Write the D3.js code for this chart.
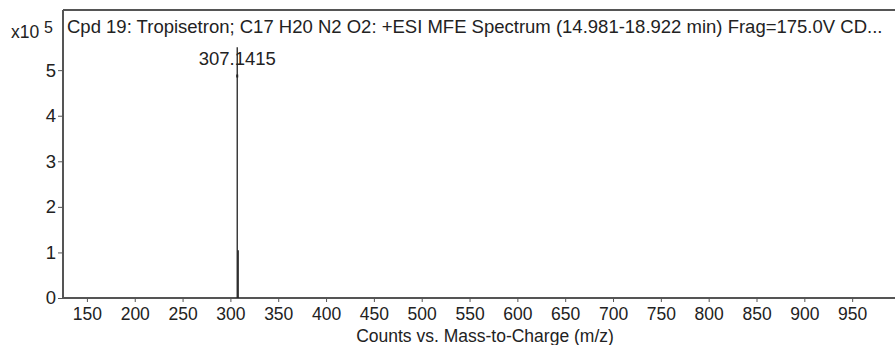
<!DOCTYPE html>
<html>
<head>
<meta charset="utf-8">
<script src="https://cdn.jsdelivr.net/npm/d3@7"></script>
<style>
  body { margin: 0; background: #fff; }
  svg { display: block; font-family: "Liberation Sans", Arial, sans-serif; }
</style>
</head>
<body>
<svg id="chart"></svg>
<script>
// Spectrum data (m/z, counts)
const peakMz = [307.1415, 308.145];
const peakCounts = [550000, 105000];
const labelledPeaks = ["307.1415"];
const xTicks = [150, 200, 250, 300, 350, 400, 450, 500, 550, 600, 650, 700, 750, 800, 850, 900, 950];
const yTicks = [0, 1, 2, 3, 4, 5];
const title = "Cpd 19: Tropisetron; C17 H20 N2 O2: +ESI MFE Spectrum (14.981-18.922 min) Frag=175.0V CD...";

const width = 895, height = 345;
const margin = {top: 10, right: -5, bottom: 47, left: 63};
const fs = 18.5;

const svg = d3.select('#chart')
    .attr('width', width)
    .attr('height', height);

const x = d3.scaleLinear()
    .domain([125, 1000])
    .range([margin.left, width - margin.right]);

const y = d3.scaleLinear()
    .domain([0, 6.32e5])
    .range([298, margin.top]);

const axisColor = '#555';

// frame: top border
svg.append('line')
    .attr('x1', margin.left).attr('x2', width)
    .attr('y1', margin.top).attr('y2', margin.top)
    .attr('stroke', axisColor).attr('stroke-width', 2);

// y axis
const yAxis = svg.append('g')
    .attr('transform', `translate(${margin.left},0)`)
    .call(d3.axisLeft(y).tickValues(yTicks.map(d => d * 1e5))
        .tickFormat(d => d / 1e5).tickSize(5).tickPadding(2));
yAxis.select('.domain').attr('stroke', axisColor).attr('stroke-width', 2)
    .attr('d', `M0,${margin.top}V${y(0)}`);
yAxis.selectAll('.tick line').attr('stroke', axisColor);
yAxis.selectAll('.tick text').attr('font-size', fs).attr('fill', '#222');

// x axis
const xAxis = svg.append('g')
    .attr('transform', `translate(0,${y(0)})`)
    .call(d3.axisBottom(x).tickValues(xTicks).tickSize(4).tickPadding(6));
xAxis.select('.domain').attr('stroke', axisColor).attr('stroke-width', 2)
    .attr('d', `M${margin.left},0H${width}`);
xAxis.selectAll('.tick line').attr('stroke', axisColor);
xAxis.selectAll('.tick text').attr('font-size', 17.5).attr('fill', '#222');

// exponent label
const expo = svg.append('text')
    .attr('x', 11).attr('y', 38)
    .attr('font-size', 17.5).attr('fill', '#222');
expo.append('tspan').text('x10 ');
expo.append('tspan').attr('dy', -5).attr('font-size', 16).text('5');

// title inside the frame
svg.append('text')
    .attr('x', margin.left + 4).attr('y', 33)
    .attr('font-size', 18.5).attr('fill', '#222')
    .text(title);

// axis title
svg.append('text')
    .attr('x', 485).attr('y', 342)
    .attr('text-anchor', 'middle')
    .attr('font-size', 17.5).attr('fill', '#222')
    .text('Counts vs. Mass-to-Charge (m/z)');

// sticks
svg.append('g')
    .selectAll('line')
    .data(peakMz)
    .join('line')
    .attr('x1', d => x(d)).attr('x2', d => x(d))
    .attr('y1', y(0))
    .attr('y2', (d, i) => y(peakCounts[i]))
    .attr('stroke', '#222')
    .attr('stroke-width', 1.3);

// peak label
labelledPeaks.forEach((lab, i) => {
    svg.append('text')
        .attr('x', x(peakMz[i])).attr('y', 65)
        .attr('text-anchor', 'middle')
        .attr('font-size', fs).attr('fill', '#222')
        .text(lab);
    svg.append('line')
        .attr('x1', x(peakMz[i]) - 1).attr('x2', x(peakMz[i]) + 1)
        .attr('y1', 76).attr('y2', 76)
        .attr('stroke', '#222').attr('stroke-width', 3);
});
</script>
</body>
</html>
